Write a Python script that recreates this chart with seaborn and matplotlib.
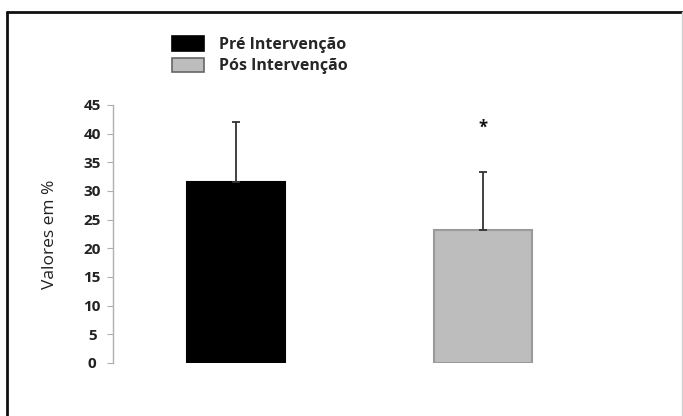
import matplotlib
matplotlib.use('Agg')
import matplotlib.pyplot as plt
import seaborn as sns
import pandas as pd
from matplotlib.lines import Line2D
from matplotlib.patches import Patch

sns.set_style('white')
plt.rcParams['font.family'] = ['Open Sans', 'DejaVu Sans']

# Data
grupos = ['Pré Intervenção', 'Pós Intervenção']
medias = [31.6, 23.2]
desvios = [10.4, 10.1]
cores = ['#000000', '#bdbdbd']
bordas = ['#000000', '#9a9a9a']
asterisco_y = 41.0

df = pd.DataFrame({'grupo': grupos, 'valor': medias})

fig = plt.figure(figsize=(6.83, 4.16), dpi=100)
ax = fig.add_axes([113 / 683, 1 - 363 / 416, (660 - 113) / 683, (363 - 105) / 416])

sns.barplot(data=df, x='grupo', y='valor', hue='grupo', palette=cores,
            width=0.4, legend=False, ax=ax, errorbar=None)
for patch, ec in zip(ax.patches, bordas):
    patch.set_edgecolor(ec)
    patch.set_linewidth(1.5)

ax.errorbar(range(len(grupos)), medias, yerr=[[0] * len(grupos), desvios],
            fmt='none', ecolor='#333333', elinewidth=1.3, capsize=3, capthick=1.3)
ax.text(1, asterisco_y, '*', ha='center', va='center', fontsize=12, fontweight='bold', color='#111111')

ax.set_xlim(-0.498, 1.717)
ax.set_ylim(0, 45)
ax.set_yticks(range(0, 46, 5))
ax.set_xticks([])
ax.set_xlabel('')
ax.set_ylabel('Valores em %', fontsize=12.5, color='#222222', labelpad=18)
for s in ['top', 'right', 'bottom']:
    ax.spines[s].set_visible(False)
ax.spines['left'].set_color('#b0b0b0')
ax.spines['left'].set_linewidth(1)
ax.tick_params(axis='y', left=True, length=4, color='#b0b0b0', pad=11, labelsize=11, labelcolor='#222222')
for lab in ax.get_yticklabels():
    lab.set_fontweight('bold')
    lab.set_horizontalalignment('center')

handles = [Patch(facecolor=c, edgecolor=e, linewidth=1.2) for c, e in zip(cores, ['#000000', '#666666'])]
fig.legend(handles, grupos, loc='upper left', bbox_to_anchor=(158 / 683, 1 - 22 / 416),
           frameon=False, prop={'weight': 'bold', 'size': 11.5}, handlelength=2.0, handleheight=1.0,
           handletextpad=0.9, labelspacing=0.3)

# outer frame of the original figure: dark top and left, faint right
fig.add_artist(Line2D([7 / 683, 682 / 683], [1 - 12 / 416] * 2, transform=fig.transFigure,
                      color='#111111', linewidth=2))
fig.add_artist(Line2D([7 / 683] * 2, [0, 1 - 12 / 416], transform=fig.transFigure,
                      color='#111111', linewidth=2))
fig.add_artist(Line2D([682 / 683] * 2, [0, 1 - 12 / 416], transform=fig.transFigure,
                      color='#d0d0d0', linewidth=1))

fig.savefig('out.png', dpi=100)
